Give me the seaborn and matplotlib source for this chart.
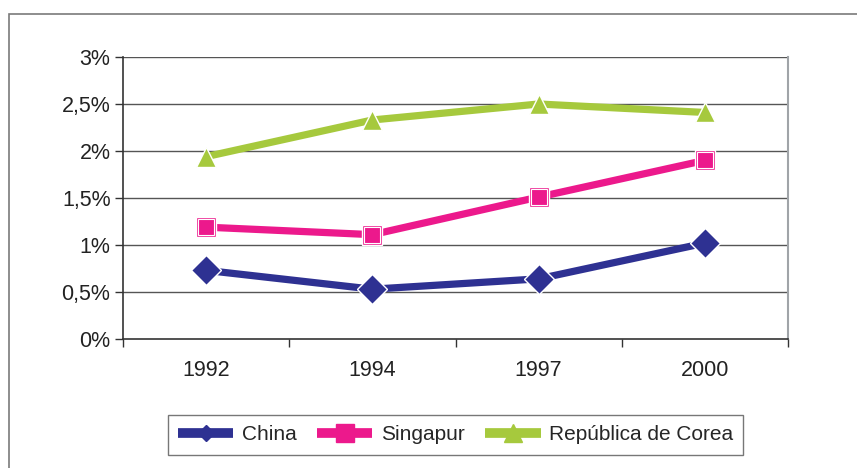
import matplotlib
matplotlib.use('Agg')
import matplotlib.pyplot as plt
import matplotlib.ticker as mticker
from matplotlib.patches import Rectangle
import pandas as pd
import seaborn as sns

years = ['1992', '1994', '1997', '2000']
china = [0.73, 0.53, 0.64, 1.02]
singapur = [1.19, 1.11, 1.51, 1.90]
corea = [1.94, 2.33, 2.50, 2.41]
series_names = ['China', 'Singapur', 'República de Corea']
colors = ['#2E3192', '#EC198C', '#A6C93D']

df = pd.DataFrame({
    'year': years * 3,
    'value': china + singapur + corea,
    'serie': [n for n in series_names for _ in years],
})

sns.set_style('white')
plt.rcParams['font.family'] = ['Liberation Sans', 'DejaVu Sans']

fig = plt.figure(figsize=(8.57, 4.68), dpi=100)
ax = fig.add_axes([123 / 857, 1 - 339 / 468, 665 / 857, 282 / 468])

# outer chart frame
fig.patches.append(Rectangle((9 / 857, -0.1), 1.2, 1 - 14 / 468 + 0.1,
                             transform=fig.transFigure, fill=False,
                             edgecolor='#7a7a7a', linewidth=1.2, clip_on=False))

for y in [0.5, 1, 1.5, 2, 2.5, 3]:
    ax.axhline(y, color='#555555', linewidth=1, zorder=0)

sns.lineplot(data=df, x='year', y='value', hue='serie', style='serie',
             palette=colors, markers={'China': 'D', 'Singapur': 's', 'República de Corea': '^'},
             dashes=False, linewidth=5.2, markersize=15, markeredgewidth=1,
             sort=False, ax=ax, zorder=3)
for line in ax.lines[-3:]:
    if line.get_marker() == 'D':
        line.set_markersize(10)
    line.set_markeredgecolor(line.get_color())

# thin white inner border on the Singapur squares
ax.plot(years, singapur, linestyle='none', marker='s', markersize=12,
        markerfacecolor='none', markeredgecolor='white', markeredgewidth=0.8, zorder=4)

ax.set_xlim(-0.5, 3.5)
ax.set_ylim(0, 3)
ax.yaxis.set_major_locator(mticker.MultipleLocator(0.5))
ax.yaxis.set_major_formatter(mticker.FuncFormatter(
    lambda v, p: ('%g' % v).replace('.', ',') + '%'))
ax.set_xticks([0, 1, 2, 3])
ax.set_xticks([-0.5, 0.5, 1.5, 2.5, 3.5], minor=True)
ax.tick_params(axis='x', which='major', length=0, pad=15, labelsize=15.5, colors='#222222')
ax.tick_params(axis='x', which='minor', length=6, width=1, direction='out', color='#333333', bottom=True)
ax.tick_params(axis='y', length=6, width=1, direction='out', color='#333333', left=True,
               labelsize=15.5, labelcolor='#222222', pad=3)
ax.set_xlabel('')
ax.set_ylabel('')

for s in ['left', 'bottom']:
    ax.spines[s].set_color('#333333')
    ax.spines[s].set_linewidth(1.2)
ax.spines['right'].set_color('#a0a4a8')
ax.spines['right'].set_linewidth(1.5)
ax.spines['top'].set_visible(False)

handles, labels = ax.get_legend_handles_labels()
ax.legend_.remove()
leg = fig.legend(handles[:3], labels[:3], loc='center', ncol=3,
                 bbox_to_anchor=(455.5 / 857, 1 - 435 / 468), frameon=True,
                 fancybox=False, edgecolor='#555555', fontsize=15,
                 handlelength=2.65, columnspacing=1.0, handletextpad=0.4,
                 borderpad=0.5, borderaxespad=0, markerscale=0.85)
leg.get_frame().set_linewidth(1)
for h in leg.legend_handles:
    h.set_linewidth(7)
    h.set_solid_capstyle('butt')

fig.savefig('out.png', dpi=100)
